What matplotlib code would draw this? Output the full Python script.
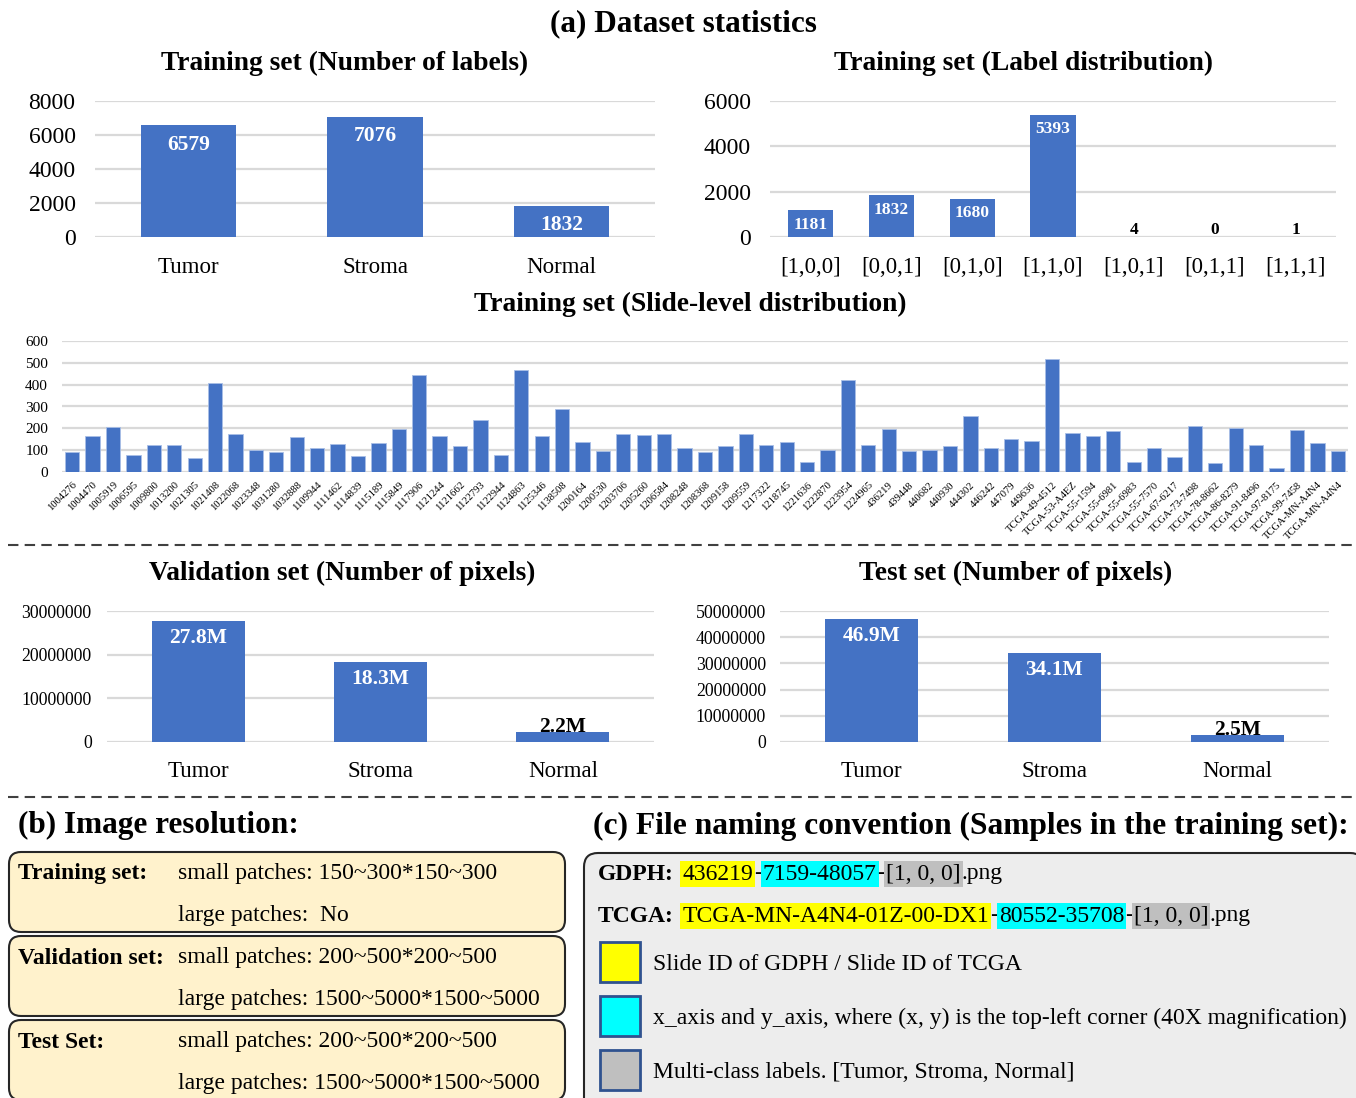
import matplotlib
matplotlib.use("Agg")
import matplotlib.pyplot as plt
from matplotlib.patches import FancyBboxPatch, Rectangle
import numpy as np

plt.rcParams['font.family'] = ['Liberation Serif', 'DejaVu Serif']

# ---- data ----
train_classes = ["Tumor", "Stroma", "Normal"]
train_counts = [6579, 7076, 1832]

label_combos = ["[1,0,0]", "[0,0,1]", "[0,1,0]", "[1,1,0]", "[1,0,1]", "[0,1,1]", "[1,1,1]"]
label_counts = [1181, 1832, 1680, 5393, 4, 0, 1]

slide_ids = ["1004276", "1004470", "1005919", "1006595", "1009800", "1013200", "1021305",
             "1021408", "1022068", "1023348", "1031280", "1032888", "1109944", "1111462",
             "1114839", "1115189", "1115849", "1117906", "1121244", "1121662", "1122793",
             "1122944", "1124863", "1125346", "1138508", "1200164", "1200530", "1203706",
             "1205260", "1206584", "1208248", "1208368", "1209158", "1209559", "1217322",
             "1218745", "1221636", "1222870", "1223954", "1224965", "436219", "439448",
             "440682", "440930", "444302", "446242", "447079", "449636", "TCGA-49-4512",
             "TCGA-53-A4EZ", "TCGA-55-1594", "TCGA-55-6981", "TCGA-55-6983", "TCGA-55-7570",
             "TCGA-67-6217", "TCGA-73-7498", "TCGA-78-8662", "TCGA-86-8279", "TCGA-91-8496",
             "TCGA-97-8175", "TCGA-99-7458", "TCGA-MN-A4N4", "TCGA-MN-A4N4"]
slide_counts = [90, 166, 204, 79, 122, 122, 64, 409, 176, 99, 90, 161, 112, 126, 73, 132,
                196, 442, 164, 117, 239, 76, 465, 164, 289, 138, 96, 176, 169, 176, 108, 91,
                117, 176, 125, 138, 44, 103, 421, 122, 199, 94, 103, 119, 255, 108, 152, 141,
                517, 179, 166, 188, 46, 108, 67, 211, 41, 201, 122, 20, 191, 135, 96]

pixel_classes = ["Tumor", "Stroma", "Normal"]
val_pixels = [27.8e6, 18.3e6, 2.2e6]
test_pixels = [46.9e6, 34.1e6, 2.5e6]

res_sets = ["Training set:", "Validation set:", "Test Set:"]
res_small = ["small patches: 150~300*150~300", "small patches: 200~500*200~500",
             "small patches: 200~500*200~500"]
res_large = ["large patches:  No", "large patches: 1500~5000*1500~5000",
             "large patches: 1500~5000*1500~5000"]

legend_texts = ["Slide ID of GDPH / Slide ID of TCGA",
                "x_axis and y_axis, where (x, y) is the top-left corner (40X magnification)",
                "Multi-class labels. [Tumor, Stroma, Normal]"]

BLUE = "#4472C4"
GRID = "#D9D9D9"
W, H = 1356, 1098

fig = plt.figure(figsize=(W / 100, H / 100), dpi=100)


def px_axes(x0, y0, x1, y1):
    return fig.add_axes([x0 / W, 1 - y1 / H, (x1 - x0) / W, (y1 - y0) / H])


def style(ax, ymax, yticks, ylabels, fs_y, pad_y, fs_x, pad_x):
    ax.set_ylim(0, ymax)
    ax.set_yticks(yticks)
    ax.set_yticklabels(ylabels)
    for s in ax.spines.values():
        s.set_visible(False)
    ax.yaxis.grid(True, color=GRID, lw=1.6)
    ax.set_axisbelow(True)
    ax.tick_params(axis='y', length=0, labelsize=fs_y, pad=pad_y)
    ax.tick_params(axis='x', length=0, labelsize=fs_x, pad=pad_x)


def label_bars(ax, vals, texts, thresh, fs, inside, above):
    for i, (v, s) in enumerate(zip(vals, texts)):
        if v > thresh:
            ax.annotate(s, (i, v), xytext=(0, -inside), textcoords='offset points',
                        ha='center', va='center', color='white', fontweight='bold', fontsize=fs)
        else:
            ax.annotate(s, (i, v), xytext=(0, above), textcoords='offset points',
                        ha='center', va='center', color='black', fontweight='bold', fontsize=fs)


# Training set (Number of labels)
ax1 = px_axes(95, 101, 655, 237)
ax1.bar(range(3), train_counts, width=0.51, color=BLUE)
ax1.set_xlim(-0.5, 2.5)
ax1.set_xticks(range(3))
ax1.set_xticklabels(train_classes)
style(ax1, 8000, range(0, 8001, 2000), [str(v) for v in range(0, 8001, 2000)], 17, 14, 16.5, 14.5)
label_bars(ax1, train_counts, [str(v) for v in train_counts], 500, 15.5, 14, 8)

# Training set (Label distribution)
ax2 = px_axes(770, 101, 1336, 237)
ax2.bar(range(7), label_counts, width=0.56, color=BLUE)
ax2.set_xlim(-0.5, 6.5)
ax2.set_xticks(range(7))
ax2.set_xticklabels(label_combos)
style(ax2, 6000, range(0, 6001, 2000), [str(v) for v in range(0, 6001, 2000)], 17, 14, 16.5, 14.5)
label_bars(ax2, label_counts, [str(v) for v in label_counts], 100, 12.5, 10.4, 5)

# Training set (Slide-level distribution)
ax3 = px_axes(62, 341, 1348, 472)
ax3.bar(range(len(slide_counts)), slide_counts, width=0.7, color=BLUE, ec='#A9BFE6', lw=0.6)
ax3.set_xlim(-0.5, len(slide_counts) - 0.5)
ax3.set_xticks(range(len(slide_ids)))
ax3.set_xticklabels(slide_ids, rotation=45, ha='right', va='top', rotation_mode='anchor')
style(ax3, 600, range(0, 601, 100), [str(v) for v in range(0, 601, 100)], 11, 10, 7.6, 6)

# Validation set (Number of pixels)
ax4 = px_axes(107, 611, 654, 742)
ax4.bar(range(3), val_pixels, width=0.51, color=BLUE)
ax4.set_xlim(-0.5, 2.5)
ax4.set_xticks(range(3))
ax4.set_xticklabels(pixel_classes)
yt = list(range(0, 30000001, 10000000))
style(ax4, 30000000, yt, [str(v) for v in yt], 12.8, 11, 16.5, 13.5)
label_bars(ax4, val_pixels, ["%.1fM" % (v / 1e6) for v in val_pixels], 5e6, 15.5, 12.2, 4)

# Test set (Number of pixels)
ax5 = px_axes(780, 611, 1329, 742)
ax5.bar(range(3), test_pixels, width=0.51, color=BLUE)
ax5.set_xlim(-0.5, 2.5)
ax5.set_xticks(range(3))
ax5.set_xticklabels(pixel_classes)
yt = list(range(0, 50000001, 10000000))
style(ax5, 50000000, yt, [str(v) for v in yt], 12.8, 10, 16.5, 13.5)
label_bars(ax5, test_pixels, ["%.1fM" % (v / 1e6) for v in test_pixels], 5e6, 15.5, 12.2, 4)

# overlay in pixel coords for titles, boxes, text
ov = fig.add_axes([0, 0, 1, 1], zorder=-1)
ov.set_xlim(0, W)
ov.set_ylim(H, 0)
ov.axis('off')

ov.text(683, 24, "(a) Dataset statistics", fontsize=22.5, fontweight='bold', ha='center', va='center')
ov.text(345, 63, "Training set (Number of labels)", fontsize=19.8, fontweight='bold', ha='center', va='center')
ov.text(1024, 63, "Training set (Label distribution)", fontsize=19.8, fontweight='bold', ha='center', va='center')
ov.text(690, 304, "Training set (Slide-level distribution)", fontsize=19.8, fontweight='bold', ha='center', va='center')
ov.text(342, 573, "Validation set (Number of pixels)", fontsize=19.8, fontweight='bold', ha='center', va='center')
ov.text(1016, 573, "Test set (Number of pixels)", fontsize=19.8, fontweight='bold', ha='center', va='center')

for yy in [545, 797]:
    ov.plot([8, W], [yy, yy], color='#404040', lw=1.5, ls=(0, (5, 3)))

# (b) Image resolution
ov.text(18, 825, "(b) Image resolution:", fontsize=22.5, fontweight='bold', ha='left', va='center')
box_tops = [852, 936, 1020]
for i, top in enumerate(box_tops):
    ov.add_patch(FancyBboxPatch((9, top), 556, 80, boxstyle="round,pad=0,rounding_size=12",
                                fc='#FFF2CC', ec='#262626', lw=1.5))
    ov.text(18, top + 22, res_sets[i], fontsize=17, fontweight='bold', ha='left', va='center')
    ov.text(178, top + 22, res_small[i], fontsize=17, ha='left', va='center')
    ov.text(178, top + 63, res_large[i], fontsize=17, ha='left', va='center')

# (c) File naming convention
ov.text(593, 826, "(c) File naming convention (Samples in the training set):", fontsize=22.7,
        fontweight='bold', ha='left', va='center')
ov.add_patch(FancyBboxPatch((584, 853), 780, 260, boxstyle="round,pad=0,rounding_size=14",
                            fc='#EDEDED', ec='#262626', lw=1.5))

renderer = fig.canvas.get_renderer()
space = 17 * 100 / 72 * 0.25
name_lines = [
    (874, [("GDPH:", True, None), (" ", False, None), ("436219", False, '#FFFF00'), ("-", False, None),
           ("7159-48057", False, '#00FFFF'), ("-", False, None), ("[1, 0, 0]", False, '#BFBFBF'),
           (".png", False, None)]),
    (916, [("TCGA:", True, None), (" ", False, None), ("TCGA-MN-A4N4-01Z-00-DX1", False, '#FFFF00'),
           ("-", False, None), ("80552-35708", False, '#00FFFF'), ("-", False, None),
           ("[1, 0, 0]", False, '#BFBFBF'), (".png", False, None)]),
]
for yy, parts in name_lines:
    x = 598
    for s, bold, bg in parts:
        if s == " ":
            x += space + 2
            continue
        kw = {}
        if bg:
            kw['bbox'] = dict(fc=bg, ec='none', pad=1.5)
        t = ov.text(x, yy, s, fontsize=17, fontweight='bold' if bold else 'normal',
                    ha='left', va='center', **kw)
        x += t.get_window_extent(renderer).width + 0.8

for yy, c, s in zip([962, 1016, 1070], ['#FFFF00', '#00FFFF', '#BFBFBF'], legend_texts):
    ov.add_patch(Rectangle((600, yy - 20), 40, 40, fc=c, ec='#2F528F', lw=2))
    ov.text(653, yy + 2, s, fontsize=17, ha='left', va='center')

fig.savefig("out.png", dpi=100)
